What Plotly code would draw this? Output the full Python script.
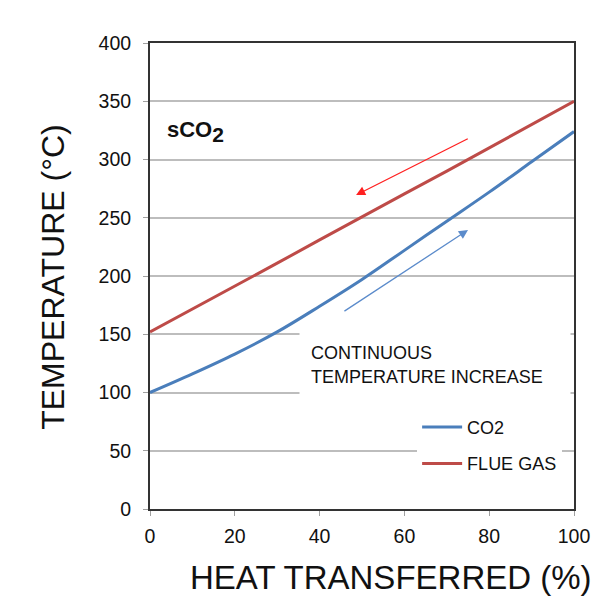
import plotly.graph_objects as go

heat_pct = [0, 10, 20, 30, 40, 50, 60, 70, 80, 90, 100]
co2_temp = [100, 116, 133, 152, 174, 197, 222, 247, 272, 298, 324]
flue_temp = [152, 171.5, 191, 211, 231, 251, 270.5, 290, 310, 330, 350]
x_ticks = [0, 20, 40, 60, 80, 100]
y_ticks = [0, 50, 100, 150, 200, 250, 300, 350, 400]

FONT = "Liberation Sans, Arial, sans-serif"

# plot area in page px
L, R_EDGE = 150, 584
PW = R_EDGE - L


def px_x(screen_x):
    """paper-x for a target page x position"""
    return (screen_x - L) / PW


fig = go.Figure()
fig.add_trace(go.Scatter(x=heat_pct, y=co2_temp, mode="lines", name="CO2",
                         legendgroup="a",
                         line=dict(color="#4A7EBB", width=3, shape="spline")))
fig.add_trace(go.Scatter(x=heat_pct, y=flue_temp, mode="lines", name="FLUE GAS",
                         legendgroup="b",
                         line=dict(color="#BE4B48", width=3)))

axis_common = dict(showline=True, mirror=True, linecolor="#333333", linewidth=2,
                   ticks="outside", ticklen=5, tickcolor="#A0A0A0",
                   tickfont=dict(family=FONT, size=19.5, color="#111111"),
                   zeroline=False)

fig.update_layout(
    width=602, height=599,
    margin=dict(l=L, r=602 - R_EDGE, t=43, b=90),
    paper_bgcolor="white", plot_bgcolor="white",
    font=dict(family=FONT, color="#111111"),
    xaxis=dict(range=[0, 100], tickvals=x_ticks, showgrid=False,
               ticklabelstandoff=4, **axis_common),
    yaxis=dict(range=[0, 400], tickvals=y_ticks, showgrid=True,
               gridcolor="#BDBDBD", gridwidth=1.5, ticklabelstandoff=8,
               **axis_common),
    legend=dict(x=0.630, y=0.215, xanchor="left", yanchor="top",
                bgcolor="white", borderwidth=0, itemwidth=40,
                traceorder="grouped", tracegroupgap=10,
                font=dict(family=FONT, size=18, color="#111111")),
    showlegend=True,
)

# Axis titles
fig.add_annotation(text="HEAT TRANSFERRED (%)", xref="paper", yref="paper",
                   x=px_x(397), y=-(577 - 509) / 466, showarrow=False,
                   xanchor="center", yanchor="middle",
                   font=dict(family=FONT, size=33, color="#111111"))
fig.add_annotation(text="TEMPERATURE (°C)", xref="paper", yref="paper",
                   x=px_x(50), y=(509 - 276.5) / 466, showarrow=False,
                   textangle=-90, xanchor="center", yanchor="middle",
                   font=dict(family=FONT, size=32, color="#111111"))

# sCO2 label
fig.add_annotation(text="<b>sCO<sub><span style='font-size:21px'>2</span></sub></b>",
                   xref="paper", x=px_x(165), y=324, showarrow=False,
                   xanchor="left", yanchor="middle",
                   font=dict(family=FONT, size=22, color="#111111"))

# Continuous temperature increase box
fig.add_annotation(text="CONTINUOUS<br>TEMPERATURE INCREASE",
                   xref="paper", x=px_x(303), y=123.6,
                   showarrow=False, xanchor="left", yanchor="middle",
                   align="left", width=248, height=46, borderpad=11,
                   bgcolor="white",
                   font=dict(family=FONT, size=18, color="#111111"))

# Arrows
fig.add_annotation(x=48.6, y=269.5, ax=75.3, ay=318.5, xref="x", yref="y",
                   axref="x", ayref="y", showarrow=True, arrowhead=2,
                   arrowsize=1.4, arrowwidth=1.3, arrowcolor="#FF2020", text="")
fig.add_annotation(x=75, y=239.5, ax=45.5, ay=169, xref="x", yref="y",
                   axref="x", ayref="y", showarrow=True, arrowhead=2,
                   arrowsize=1.4, arrowwidth=1.3, arrowcolor="#5B8BCB", text="")

fig.write_html(
    "out.html",
    config={"displayModeBar": False},
    post_script="document.body.style.margin='0';"
                "document.documentElement.style.overflow='hidden';"
                "document.body.style.overflow='hidden';",
)
